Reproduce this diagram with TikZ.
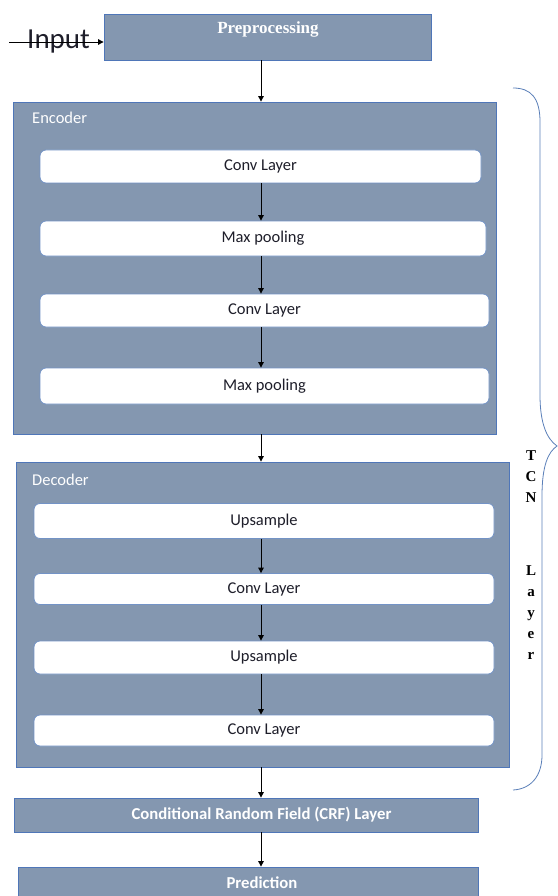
\documentclass[tikz,border=0pt]{standalone}
\usepackage{fontspec}
\setmainfont{Liberation Serif}
\setsansfont{Carlito}
\usetikzlibrary{arrows.meta}
\definecolor{boxfill}{HTML}{8497B0}
\definecolor{boxline}{HTML}{4F76B8}
\definecolor{inline}{HTML}{7393C6}
\definecolor{bracec}{HTML}{5A7FB8}
\definecolor{txtdark}{HTML}{1E1E2A}
\tikzset{
  outerbox/.style={draw=boxline, fill=boxfill, line width=0.8pt, inner sep=0pt},
  innerbox/.style={draw=inline, fill=white, line width=0.8pt, rounded corners=6pt, inner sep=0pt,
    font=\sffamily\fontsize{16.5}{18}\selectfont, text=txtdark},
  wlabel/.style={font=\sffamily\fontsize{16.5}{18}\selectfont, text=white, inner sep=0pt},
  wbold/.style={font=\sffamily\bfseries\fontsize{16.7}{18}\selectfont, text=white, inner sep=0pt},
  arr/.style={-{Triangle[width=5.5pt,length=5.5pt]}, line width=0.9pt, black},
  tcn/.style={font=\rmfamily\bfseries\fontsize{15}{21}\selectfont, align=center, inner sep=0pt}
}
\begin{document}
\begin{tikzpicture}[x=1pt,y=-1pt]
\useasboundingbox (0,0) rectangle (557,896);
\coordinate (axis) at (261,0);
% input
\node[font=\sffamily\fontsize{29}{32}\selectfont, text=txtdark, inner sep=0pt, anchor=west] (input) at (27,42) {Input};
\coordinate (instart) at (9,42);
% preprocessing
\node[outerbox, minimum width=327pt, minimum height=46pt] (pre) at (267.5,37) {};
\node[font=\rmfamily\bfseries\fontsize{17}{19}\selectfont, text=white, inner sep=0pt] (pretext) at (268,29) {Preprocessing};
\draw[arr] (instart) -- (instart -| pre.west);
% encoder
\node[outerbox, minimum width=483pt, minimum height=332pt] (enc) at (254.5,268) {};
\node[wlabel, anchor=west] (enclab) at (32,118) {Encoder};
\node[innerbox, minimum width=441pt, minimum height=33pt] (c1) at (260.5,166.5) {Conv Layer};
\node[innerbox, minimum width=446pt, minimum height=35pt] (m1) at (263,238.5) {Max pooling};
\node[innerbox, minimum width=449pt, minimum height=33pt] (c2) at (264.5,310.5) {Conv Layer};
\node[innerbox, minimum width=449pt, minimum height=36pt] (m2) at (264.5,386) {Max pooling};
% decoder
\node[outerbox, minimum width=493pt, minimum height=305pt] (dec) at (262.5,614.5) {};
\node[wlabel, anchor=west] (declab) at (32,480) {Decoder};
\node[innerbox, minimum width=460pt, minimum height=35pt] (u1) at (264,521) {Upsample};
\node[innerbox, minimum width=460pt, minimum height=31pt] (c3) at (264,589) {Conv Layer};
\node[innerbox, minimum width=460pt, minimum height=33pt] (u2) at (264,657.5) {Upsample};
\node[innerbox, minimum width=460pt, minimum height=31pt] (c4) at (264,730.5) {Conv Layer};
% CRF and prediction
\node[outerbox, minimum width=464pt, minimum height=34pt] (crf) at (246,815) {};
\node[wbold] (crftext) at (261.5,815) {Conditional Random Field (CRF) Layer};
\node[outerbox, minimum width=460pt, minimum height=34pt] (pred) at (248,884) {};
\node[wbold] (predtext) at (262,883) {Prediction};
% arrows
\draw[arr] (pre.south -| axis) -- (enc.north -| axis);
\draw[arr] (c1.south -| axis) -- (m1.north -| axis);
\draw[arr] (m1.south -| axis) -- (c2.north -| axis);
\draw[arr] (c2.south -| axis) -- (m2.north -| axis);
\draw[arr] (enc.south -| axis) -- (dec.north -| axis);
\draw[arr] (u1.south -| axis) -- (c3.north -| axis);
\draw[arr] (c3.south -| axis) -- (u2.north -| axis);
\draw[arr] (u2.south -| axis) -- (c4.north -| axis);
\draw[arr] (dec.south -| axis) -- (crf.north -| axis);
\draw[arr] (crf.south -| axis) -- (pred.north -| axis);
% brace
\draw[bracec, line width=0.8pt]
  (513,88) .. controls (531,88) and (540,98) .. (540,122)
  -- (540,395) .. controls (540,424) and (547,439) .. (557,446)
  .. controls (548,452) and (542,466) .. (542,496)
  -- (542,755) .. controls (542,776) and (531,789) .. (513,790);
% TCN Layer
\node[tcn, anchor=north] (tcnA) at (531,450) {T\\C\\N};
\node[tcn, anchor=north] (tcnB) at (531,565) {L\\a\\y\\e\\r};
\end{tikzpicture}
\end{document}
